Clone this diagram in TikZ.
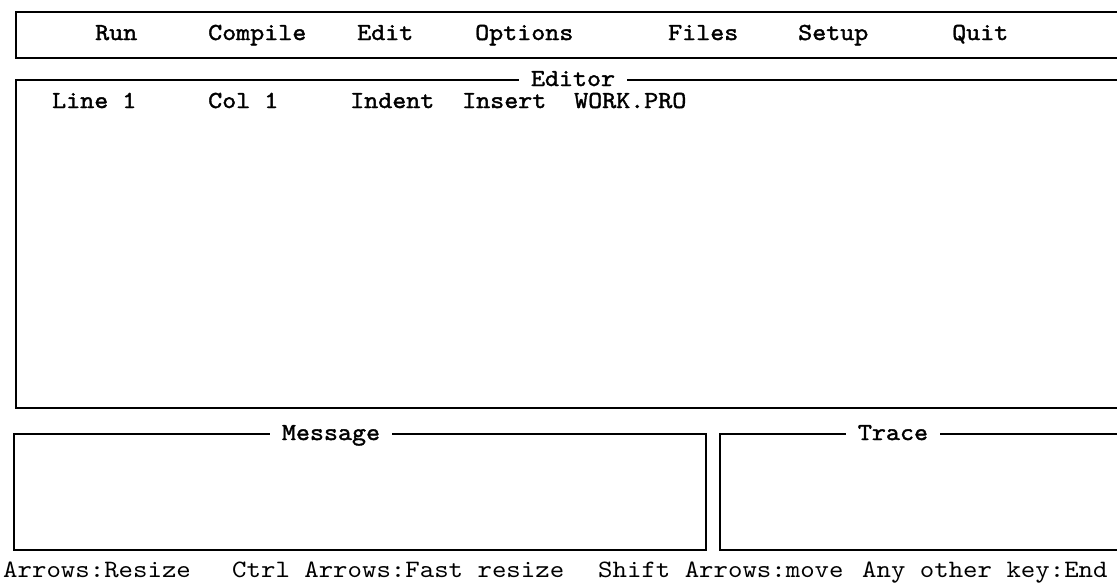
\documentclass[tikz,border=0pt]{standalone}
\usepackage{fontspec}
\newfontfamily\courreg[FakeStretch=1.1]{lmmono10-regular.otf}
\newfontfamily\courbold[FakeStretch=1.09,FakeBold=1.6]{lmmono10-regular.otf}
\begin{document}
\begin{tikzpicture}[x=1pt,y=-1pt,
  frame/.style={line width=2.2pt,line join=miter},
  menuitem/.style={anchor=base west,inner sep=0pt,font=\courbold\fontsize{24.5}{28}\selectfont},
  title/.style={anchor=base,fill=white,inner xsep=12pt,inner ysep=1pt,font=\courbold\fontsize{24.5}{28}\selectfont},
  status/.style={anchor=base west,inner sep=0pt,font=\courreg\fontsize{25}{28}\selectfont}
]
\useasboundingbox (0,0) rectangle (1117,582);
% menu bar box (open to the right)
\draw[frame] (1130,12) -- (16,12) -- (16,58) -- (1130,58);
% editor box
\draw[frame] (1130,80) -- (16,80) -- (16,408) -- (1130,408);
% message box
\draw[frame] (14,434) rectangle (706,550);
% trace box
\draw[frame] (1130,434) -- (720,434) -- (720,550) -- (1130,550);

% menu items
\node[menuitem] (run) at (95,40) {Run};
\node[menuitem] (compile) at (208,40) {Compile};
\node[menuitem] (edit) at (357,40) {Edit};
\node[menuitem] (options) at (475,40) {Options};
\node[menuitem] (files) at (668,40) {Files};
\node[menuitem] (setup) at (798,40) {Setup};
\node[menuitem] (quit) at (952,40) {Quit};

% titles
\node[title] (editor) at (573,86) {Editor};
\node[title] (message) at (331,440) {Message};
\node[title] (trace) at (893,440) {Trace};

% editor status line
\node[menuitem] (line) at (52,108) {Line 1};
\node[menuitem] (col) at (208,108) {Col 1};
\node[menuitem] (indent) at (350,108) {Indent};
\node[menuitem] (insert) at (462,108) {Insert};
\node[menuitem] (work) at (574,108) {WORK.PRO};

% bottom help line
\node[status] (arrows) at (3,577) {Arrows:Resize};
\node[status] (ctrl) at (232,577) {Ctrl Arrows:Fast resize};
\node[status] (shift) at (598,577) {Shift Arrows:move};
\node[status] (any) at (862,577) {Any other key:End};
\end{tikzpicture}
\end{document}
